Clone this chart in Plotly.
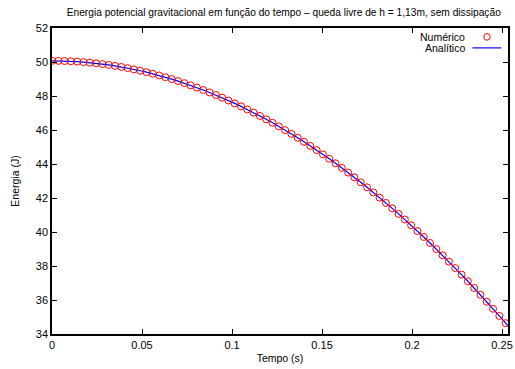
import plotly.graph_objects as go

# Time (s) of the numerical samples, dt = 0.0035 s
tempo = [round(0.0035 * i, 4) for i in range(73)]

# Numerical potential energy (J)
energia_num = [
    50.070, 50.067, 50.058, 50.043, 50.022, 49.996, 49.963, 49.924, 49.879, 49.829,
    49.772, 49.710, 49.641, 49.567, 49.487, 49.400, 49.308, 49.210, 49.106, 48.995,
    48.879, 48.757, 48.629, 48.495, 48.355, 48.210, 48.058, 47.900, 47.736, 47.567,
    47.391, 47.209, 47.022, 46.828, 46.629, 46.423, 46.212, 45.995, 45.772, 45.542,
    45.307, 45.066, 44.819, 44.566, 44.307, 44.042, 43.771, 43.494, 43.212, 42.923,
    42.628, 42.327, 42.021, 41.708, 41.390, 41.065, 40.735, 40.398, 40.056, 39.708,
    39.354, 38.993, 38.627, 38.255, 37.877, 37.493, 37.103, 36.707, 36.305, 35.897,
    35.484, 35.064, 34.638,
]

# Analytical curve: same samples, continued to the right edge of the plot
tempo_an = tempo + [0.2535]
energia_an = energia_num + [34.454]

x_ticks = [0, 0.05, 0.1, 0.15, 0.2, 0.25]
x_tick_labels = ["0", "0.05", "0.1", "0.15", "0.2", "0.25"]
y_ticks = [34, 36, 38, 40, 42, 44, 46, 48, 50, 52]

FONT = "Liberation Sans, Arial, Helvetica, sans-serif"

fig = go.Figure()
fig.add_trace(go.Scatter(
    x=tempo_an, y=energia_an, mode="lines", name="Analítico",
    line=dict(color="#0000ff", width=1.2),
))
fig.add_trace(go.Scatter(
    x=tempo, y=energia_num, mode="markers", name="Numérico",
    marker=dict(symbol="circle-open", size=7, color="#ff0000", line=dict(width=1, color="#ff0000")),
))

axis_common = dict(
    showline=True, linecolor="black", linewidth=1.5, mirror="ticks",
    ticks="inside", ticklen=5, tickwidth=1, tickcolor="black",
    showgrid=False, zeroline=False,
    tickfont=dict(family=FONT, size=11, color="black"),
)

fig.update_layout(
    width=515, height=369,
    margin=dict(l=52, r=2, t=28, b=35),
    paper_bgcolor="white", plot_bgcolor="white",
    showlegend=False,
    font=dict(family=FONT, size=11, color="black"),
    title=dict(
        text="Energia potencial gravitacional em função do tempo – queda livre de h = 1,13m, sem dissipação",
        x=0.551, xanchor="center", y=0.967, yanchor="middle",
        font=dict(family=FONT, size=10.2, color="black"),
    ),
    xaxis=dict(
        range=[0, 0.2533], tickvals=x_ticks, ticktext=x_tick_labels,
        ticklabeloverflow="allow",
        title=dict(text="Tempo (s)", standoff=5, font=dict(family=FONT, size=10.5)),
        **axis_common,
    ),
    yaxis=dict(
        range=[34, 52], tickvals=y_ticks,
        title=dict(text="Energia (J)", standoff=14, font=dict(family=FONT, size=10.5)),
        **axis_common,
    ),
)

# gnuplot-style key: text right-aligned, sample on the right
fig.add_annotation(xref="paper", yref="paper", x=0.909, y=0.971, text="Numérico",
                   showarrow=False, xanchor="right", yanchor="middle",
                   font=dict(family=FONT, size=10.5, color="black"))
fig.add_annotation(xref="paper", yref="paper", x=0.909, y=0.935, text="Analítico",
                   showarrow=False, xanchor="right", yanchor="middle",
                   font=dict(family=FONT, size=10.5, color="black"))
fig.add_shape(type="line", xref="paper", yref="paper", x0=0.922, x1=0.985, y0=0.935, y1=0.935,
              line=dict(color="#0000ff", width=1.2))
fig.add_shape(type="circle", xref="paper", yref="paper", x0=0.947, x1=0.961, y0=0.960, y1=0.982,
              line=dict(color="#ff0000", width=1))

fig.write_html("out.html")
